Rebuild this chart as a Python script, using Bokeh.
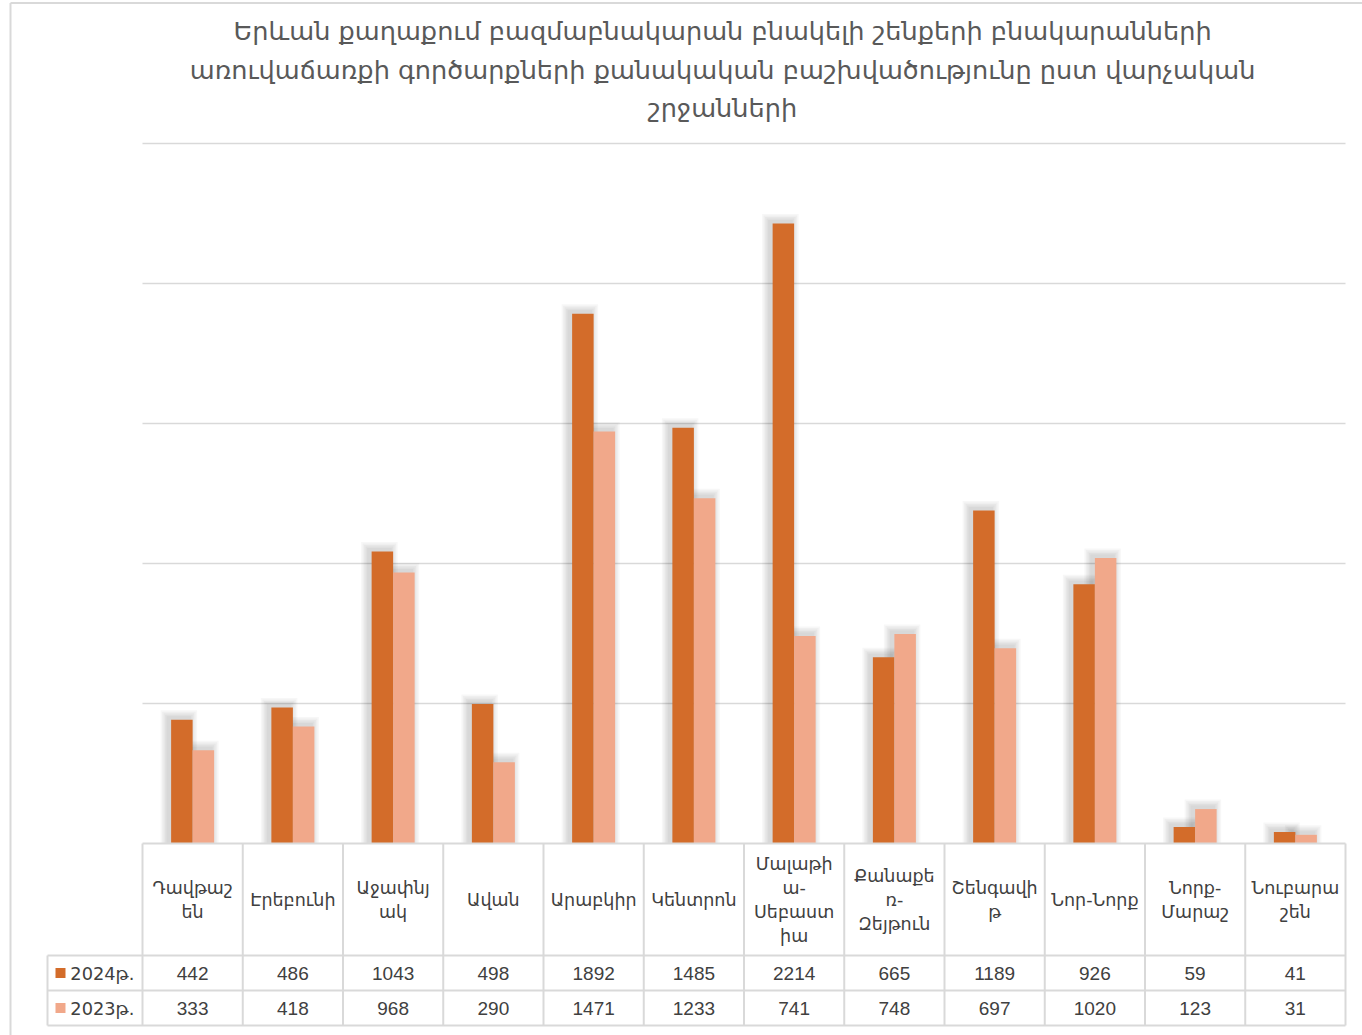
import numpy as np
from bokeh.plotting import figure
from bokeh.models import Range1d
from bokeh.core.properties import value
from bokeh.embed import file_html
from bokeh.resources import INLINE

# ---------------- data ----------------
title_lines = [
    "Երևան քաղաքում բազմաբնակարան բնակելի շենքերի բնակարանների",
    "առուվաճառքի գործարքների քանակական բաշխվածությունը ըստ վարչական",
    "շրջանների",
]
categories = ["Դավթաշեն", "Էրեբունի", "Աջափնյակ", "Ավան", "Արաբկիր", "Կենտրոն",
              "Մալաթիա-Սեբաստիա", "Քանաքեռ-Զեյթուն", "Շենգավիթ", "Նոր-Նորք",
              "Նորք-Մարաշ", "Նուբարաշեն"]
category_labels = ["Դավթաշ\nեն", "Էրեբունի", "Աջափնյ\nակ", "Ավան", "Արաբկիր", "Կենտրոն",
                   "Մալաթի\nա-\nՍեբաստ\nիա", "Քանաքե\nռ-\nԶեյթուն", "Շենգավի\nթ", "Նոր-Նորք",
                   "Նորք-\nՄարաշ", "Նուբարա\nշեն"]
series_names = ["2024թ.", "2023թ."]
values_2024 = [442, 486, 1043, 498, 1892, 1485, 2214, 665, 1189, 926, 59, 41]
values_2023 = [333, 418, 968, 290, 1471, 1233, 741, 748, 697, 1020, 123, 31]
grid_values = [500, 1000, 1500, 2000, 2500]

# ---------------- styling ----------------
C24 = "#D36C2A"
C23 = "#F1A88A"
GRID = "#D9D9D9"
TXT = "#404040"
ARM_FONT = value("DejaVu Sans")
NUM_FONT = value("Liberation Sans")

n = len(categories)
xc = np.arange(n) + 0.5
bw = 0.2145
PX = 1 / 100.25      # one pixel in x data units
PY = 1 / 0.28        # one pixel in y data units

# table rows (data units below the baseline)
row_label_y = -200
row1_top, row1_bot = -400, -525
row2_bot = -650
row1_y = -462.5
row2_y = -587.5
left_edge = -0.9476

p = figure(width=1362, height=1035, output_backend="svg", toolbar_location=None,
           x_range=Range1d(-1.4165, 12.1696), y_range=Range1d(-685.7, 3010.7),
           x_axis_location=None, y_axis_location=None, min_border=0)
p.grid.visible = False
p.outline_line_color = None
p.background_fill_color = "white"
p.border_fill_color = "white"

# outer chart border (top and left edges visible)
bx = -1.3167
by = 3001.8
p.segment(x0=[bx, bx], x1=[13, bx], y0=[by, by], y1=[by, -800], line_color=GRID, line_width=2)

# gridlines
p.segment(x0=[0] * len(grid_values), x1=[n] * len(grid_values), y0=grid_values, y1=grid_values,
          line_color=GRID, line_width=1.5)

# soft blurred shadows (offset up-left)
v24 = np.array(values_2024, dtype=float)
v23 = np.array(values_2023, dtype=float)
dx, dy = 3 * PX, 2 * PY
for e in [1.5, 3, 4.5, 6, 7.5]:
    for centers, tops in [(xc - bw / 2, v24), (xc + bw / 2, v23)]:
        p.quad(left=centers - bw / 2 - dx - e * PX, right=centers + bw / 2 - dx + e * PX,
               top=tops + dy + e * PY, bottom=np.zeros(n),
               fill_color="black", fill_alpha=0.03, line_color=None)

# bars
p.vbar(x=xc - bw / 2, top=values_2024, bottom=0, width=bw, fill_color=C24, line_color=None)
p.vbar(x=xc + bw / 2, top=values_2023, bottom=0, width=bw, fill_color=C23, line_color=None)

# table (white background below baseline hides shadow spill)
p.quad(left=[0], right=[n], top=[0], bottom=[row1_top], fill_color="white", line_color=None)
p.segment(x0=[0], x1=[n], y0=[0], y1=[0], line_color=GRID, line_width=2)
for yy in [row1_top, row1_bot, row2_bot]:
    p.segment(x0=[left_edge], x1=[n], y0=[yy], y1=[yy], line_color=GRID, line_width=2)
vx = list(range(n + 1))
p.segment(x0=vx, x1=vx, y0=[0] * len(vx), y1=[row2_bot] * len(vx), line_color=GRID, line_width=2)
p.segment(x0=[left_edge], x1=[left_edge], y0=[row1_top], y1=[row2_bot], line_color=GRID, line_width=2)

# category labels
p.text(x=xc, y=[row_label_y] * n, text=category_labels, text_align="center",
       text_baseline="middle", text_font=ARM_FONT, text_font_size="17.5px",
       text_color=TXT, text_line_height=1.2)

# values
p.text(x=xc, y=[row1_y] * n, text=[str(v) for v in values_2024], text_align="center",
       text_baseline="middle", text_font=NUM_FONT, text_font_size="19px", text_color=TXT)
p.text(x=xc, y=[row2_y] * n, text=[str(v) for v in values_2023], text_align="center",
       text_baseline="middle", text_font=NUM_FONT, text_font_size="19px", text_color=TXT)

# legend keys in table
p.scatter(x=[-0.818, -0.818], y=[row1_y, row2_y], marker="square", size=10,
          fill_color=[C24, C23], line_color=None)
p.text(x=[-0.72, -0.72], y=[row1_y, row2_y], text=series_names, text_align="left",
       text_baseline="middle", text_font=ARM_FONT, text_font_size="17.8px", text_color=TXT)

# title
p.text(x=[5.786] * 3, y=[2903, 2761, 2625], text=title_lines, text_align="center",
       text_baseline="middle", text_font=ARM_FONT, text_font_size="25.6px", text_color="#595959")

open("out.html", "w").write(file_html(p, INLINE))
